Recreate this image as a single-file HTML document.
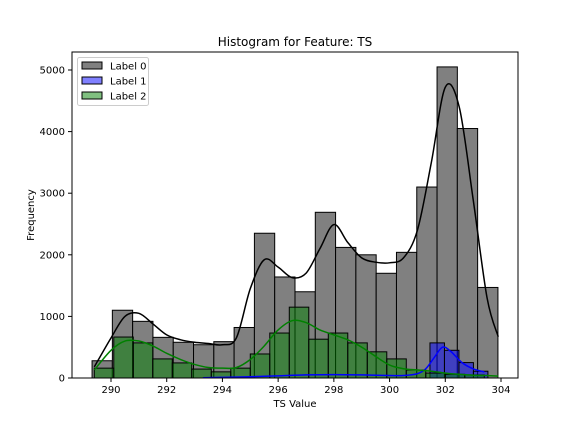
<!DOCTYPE html>
<html><head><meta charset="utf-8"><style>
body{margin:0;background:#fff;font-family:"Liberation Sans","DejaVu Sans",sans-serif}
svg text{font-family:"DejaVu Sans","Liberation Sans",sans-serif;font-size:10px;fill:#000}
</style></head><body>
<svg id="chart" width="576" height="432" xmlns="http://www.w3.org/2000/svg">
<rect width="576" height="432" fill="#fff"/>
<g id="plot"></g>
</svg>
<script>
const xTicks=[290,292,294,296,298,300,302,304];
const yTicks=[0,1000,2000,3000,4000,5000];
const bins0Start=289.32, bins0Width=0.7285;
const counts0=[280,1100,920,660,580,540,590,820,2350,1640,1400,2690,2120,2000,1700,2040,3100,5050,4050,1470];
const bins2Start=289.4, bins2Width=0.7;
const counts2=[160,665,570,310,245,145,100,160,390,730,1150,630,730,570,425,310,130,80,60,50];
const bins1Start=301.45, bins1Width=0.52;
const counts1=[570,450,250,110];
const kdeX=[289.4,290,290.5,291,291.5,292,292.5,293,293.5,294,294.5,295,295.5,296,296.5,297,297.5,298,298.5,299,299.5,300,300.5,301,301.5,302,302.5,303,303.5,303.9];
const kde0=[180,650,1000,1050,880,700,620,580,560,540,650,1450,1920,1800,1630,1700,2100,2490,2200,1950,1880,1870,1950,2400,3500,4720,4400,2900,1300,670];
const kde2=[130,450,600,600,520,400,300,220,170,160,170,300,520,780,930,900,780,700,620,500,350,210,150,130,110,80,60,45,40,30];
const kde1X=[293.3,294,295,296,297,298,299,300,300.5,301,301.3,301.6,301.9,302.2,302.6,303,303.4];
const kde1=[5,10,20,35,50,55,50,40,40,70,150,330,500,430,250,150,100];

const L=72,R=518,T=52,B=378;
const sx=v=>111+(v-290)*(501-111)/14;
const sy=v=>378-v*(378-70)/5000;
const NS="http://www.w3.org/2000/svg";
const g=document.getElementById('plot');
function mk(tag,attrs){const e=document.createElementNS(NS,tag);for(const k in attrs)e.setAttribute(k,attrs[k]);g.appendChild(e);return e;}
function bars(start,w,counts,fill,op,name){
  counts.forEach((c,i)=>{
    const x0=sx(start+i*w),x1=sx(start+(i+1)*w);
    const r=mk('rect',{x:x0,y:sy(c),width:x1-x0,height:sy(0)-sy(c),fill:fill,'fill-opacity':op,stroke:'#000','stroke-width':1});
    
    
  });
}
function curve(xs,ys,color,name){
  const p=xs.map((x,i)=>[sx(x),sy(ys[i])]);
  let d='M'+p[0][0]+','+p[0][1];
  for(let i=0;i<p.length-1;i++){
    const p0=p[Math.max(0,i-1)],p1=p[i],p2=p[i+1],p3=p[Math.min(p.length-1,i+2)];
    d+=' C'+(p1[0]+(p2[0]-p0[0])/6)+','+(p1[1]+(p2[1]-p0[1])/6)+' '+(p2[0]-(p3[0]-p1[0])/6)+','+(p2[1]-(p3[1]-p1[1])/6)+' '+p2[0]+','+p2[1];
  }
  const e=mk('path',{d:d,fill:'none',stroke:color,'stroke-width':1.5});
  
  
}
bars(bins0Start,bins0Width,counts0,'#808080',1,'label0');
bars(bins1Start,bins1Width,counts1,'#0000ff',0.5,'label1');
bars(bins2Start,bins2Width,counts2,'#008000',0.5,'label2');
curve(kdeX,kde0,'#000','kde-label0');
curve(kde1X,kde1,'#0000ff','kde-label1');
curve(kdeX,kde2,'#008000','kde-label2');
const fr=mk('rect',{x:L,y:T,width:R-L,height:B-T,fill:'none',stroke:'#000','stroke-width':1});


xTicks.forEach(v=>{
  const x=sx(v);
  mk('line',{x1:x,x2:x,y1:B,y2:B+4,stroke:'#000'});
  const t=mk('text',{x:x,y:B+15,'text-anchor':'middle'});t.textContent=v;
  
  
});
yTicks.forEach(v=>{
  const y=sy(v);
  mk('line',{x1:L-4,x2:L,y1:y,y2:y,stroke:'#000'});
  const t=mk('text',{x:L-7,y:y+3.5,'text-anchor':'end'});t.textContent=v;
  
  
});
</script>
<svg style="position:absolute;left:0;top:0" width="576" height="432" xmlns="http://www.w3.org/2000/svg">
<text x="295" y="46" text-anchor="middle" style="font-size:12px">Histogram for Feature: TS</text>
<text x="295" y="407" text-anchor="middle">TS Value</text>
<text x="34" y="215" text-anchor="middle" transform="rotate(-90 34 215)">Frequency</text>
<g>
<rect x="77.5" y="57.5" width="71" height="48" rx="2" fill="#fff" fill-opacity="0.8" stroke="#ccc"/>
<g><rect x="82" y="62" width="20" height="7" fill="#808080" stroke="#000"/><text x="110" y="69.5">Label 0</text></g>
<g><rect x="82" y="77" width="20" height="7" fill="#8080ff" stroke="#000"/><text x="110" y="84.5">Label 1</text></g>
<g><rect x="82" y="92" width="20" height="7" fill="#80c080" stroke="#000"/><text x="110" y="99.5">Label 2</text></g>
</g>
</svg>
</body></html>
